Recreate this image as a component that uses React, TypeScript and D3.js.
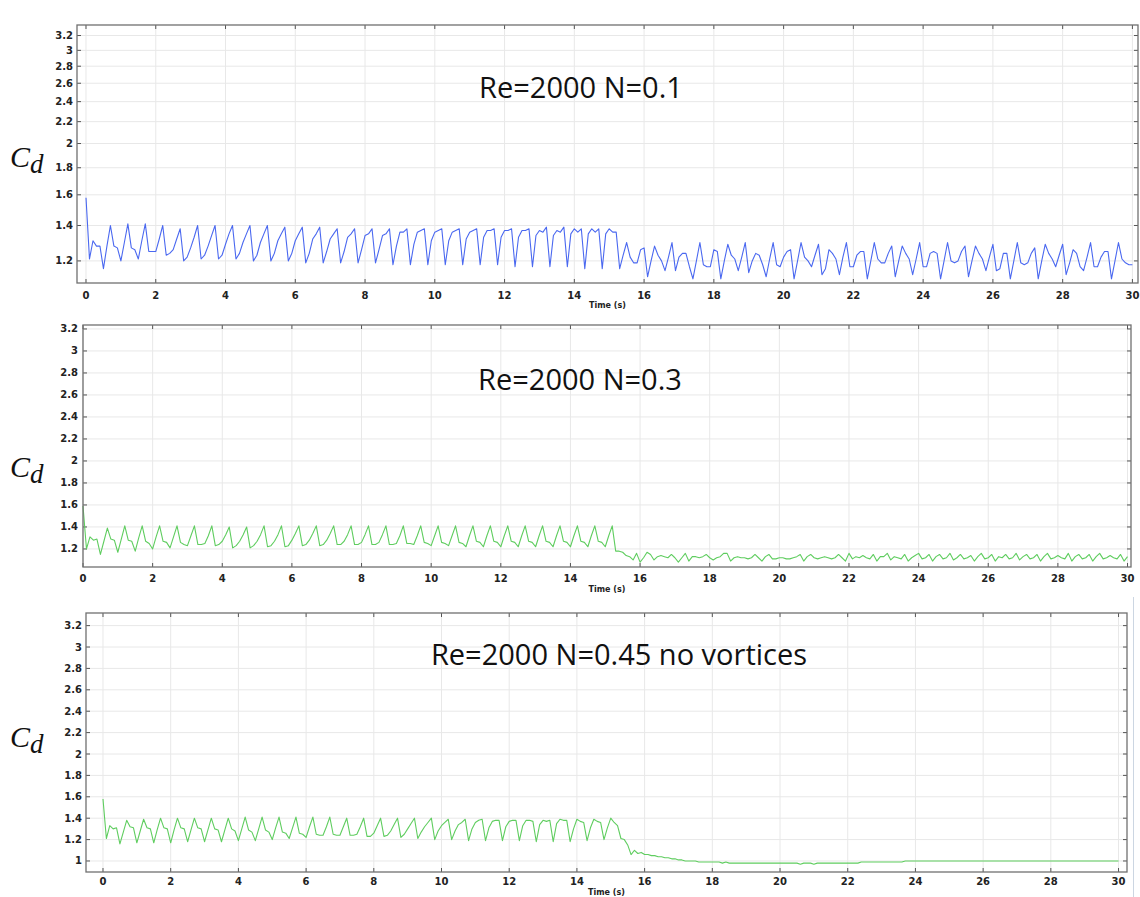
import React, { useEffect, useRef } from 'react';
import * as d3 from 'd3';

// sample step of the exported drag coefficient series (s)
const dt = 0.1;

// Re=2000 N=0.1 (blue)
const cdN01 = [
  1.58, 1.21, 1.31, 1.28, 1.28, 1.16, 1.28, 1.40, 1.28, 1.27,
  1.20, 1.30, 1.41, 1.27, 1.26, 1.21, 1.31, 1.41, 1.25, 1.25,
  1.25, 1.32, 1.40, 1.23, 1.24, 1.26, 1.32, 1.38, 1.20, 1.22,
  1.27, 1.33, 1.40, 1.21, 1.23, 1.28, 1.34, 1.40, 1.21, 1.23,
  1.29, 1.35, 1.40, 1.21, 1.24, 1.30, 1.35, 1.40, 1.20, 1.23,
  1.30, 1.35, 1.40, 1.20, 1.24, 1.31, 1.35, 1.39, 1.20, 1.24,
  1.31, 1.35, 1.39, 1.19, 1.24, 1.32, 1.35, 1.39, 1.19, 1.25,
  1.32, 1.35, 1.38, 1.19, 1.25, 1.33, 1.35, 1.38, 1.19, 1.26,
  1.34, 1.35, 1.38, 1.19, 1.26, 1.34, 1.35, 1.38, 1.18, 1.28,
  1.36, 1.36, 1.38, 1.18, 1.29, 1.36, 1.37, 1.38, 1.18, 1.31,
  1.36, 1.37, 1.38, 1.18, 1.31, 1.36, 1.37, 1.38, 1.18, 1.32,
  1.36, 1.37, 1.38, 1.18, 1.33, 1.37, 1.37, 1.38, 1.18, 1.33,
  1.37, 1.37, 1.38, 1.17, 1.33, 1.37, 1.37, 1.38, 1.17, 1.34,
  1.37, 1.36, 1.39, 1.17, 1.34, 1.37, 1.36, 1.39, 1.17, 1.35,
  1.38, 1.36, 1.38, 1.16, 1.35, 1.38, 1.36, 1.38, 1.16, 1.35,
  1.38, 1.36, 1.36, 1.16, 1.23, 1.30, 1.22, 1.19, 1.19, 1.26,
  1.27, 1.12, 1.20, 1.28, 1.23, 1.20, 1.15, 1.22, 1.30, 1.15,
  1.22, 1.24, 1.24, 1.17, 1.11, 1.20, 1.30, 1.18, 1.17, 1.17,
  1.26, 1.25, 1.11, 1.20, 1.29, 1.23, 1.21, 1.15, 1.22, 1.30,
  1.14, 1.20, 1.24, 1.23, 1.18, 1.12, 1.21, 1.30, 1.18, 1.17,
  1.22, 1.25, 1.26, 1.11, 1.20, 1.30, 1.22, 1.20, 1.17, 1.23,
  1.29, 1.13, 1.16, 1.26, 1.24, 1.21, 1.13, 1.22, 1.30, 1.17,
  1.17, 1.23, 1.25, 1.25, 1.11, 1.20, 1.30, 1.21, 1.19, 1.19,
  1.24, 1.28, 1.12, 1.20, 1.28, 1.24, 1.21, 1.13, 1.21, 1.30,
  1.17, 1.17, 1.24, 1.25, 1.24, 1.11, 1.20, 1.30, 1.20, 1.19,
  1.20, 1.25, 1.28, 1.12, 1.20, 1.28, 1.24, 1.21, 1.15, 1.22,
  1.29, 1.15, 1.16, 1.24, 1.24, 1.11, 1.20, 1.30, 1.19, 1.18,
  1.19, 1.24, 1.27, 1.11, 1.20, 1.29, 1.24, 1.21, 1.17, 1.23,
  1.29, 1.13, 1.19, 1.26, 1.24, 1.17, 1.15, 1.22, 1.30, 1.17,
  1.17, 1.22, 1.25, 1.25, 1.11, 1.20, 1.30, 1.21, 1.19, 1.18,
  1.18,
];

// Re=2000 N=0.3 (green)
const cdN03 = [
  1.59, 1.20, 1.31, 1.28, 1.29, 1.15, 1.27, 1.39, 1.29, 1.28,
  1.17, 1.29, 1.41, 1.28, 1.27, 1.18, 1.30, 1.41, 1.27, 1.25,
  1.20, 1.31, 1.41, 1.27, 1.26, 1.21, 1.31, 1.41, 1.26, 1.24,
  1.23, 1.32, 1.41, 1.24, 1.24, 1.25, 1.32, 1.41, 1.23, 1.24,
  1.27, 1.33, 1.40, 1.21, 1.23, 1.27, 1.33, 1.40, 1.21, 1.23,
  1.27, 1.33, 1.41, 1.22, 1.23, 1.27, 1.33, 1.41, 1.22, 1.23,
  1.28, 1.34, 1.41, 1.23, 1.24, 1.28, 1.34, 1.41, 1.23, 1.24,
  1.28, 1.34, 1.41, 1.24, 1.24, 1.27, 1.33, 1.41, 1.24, 1.24,
  1.26, 1.33, 1.41, 1.24, 1.24, 1.26, 1.33, 1.41, 1.24, 1.24,
  1.25, 1.32, 1.41, 1.25, 1.25, 1.24, 1.32, 1.41, 1.26, 1.25,
  1.23, 1.32, 1.41, 1.26, 1.25, 1.23, 1.32, 1.41, 1.26, 1.25,
  1.22, 1.32, 1.41, 1.27, 1.26, 1.22, 1.32, 1.41, 1.27, 1.26,
  1.22, 1.32, 1.41, 1.27, 1.26, 1.22, 1.32, 1.41, 1.27, 1.26,
  1.22, 1.32, 1.41, 1.27, 1.26, 1.22, 1.32, 1.41, 1.27, 1.26,
  1.22, 1.32, 1.41, 1.27, 1.26, 1.22, 1.32, 1.41, 1.27, 1.26,
  1.22, 1.32, 1.41, 1.18, 1.18, 1.17, 1.14, 1.13, 1.10, 1.16,
  1.08, 1.12, 1.17, 1.15, 1.10, 1.13, 1.14, 1.13, 1.12, 1.15,
  1.12, 1.08, 1.12, 1.16, 1.09, 1.13, 1.13, 1.12, 1.13, 1.15,
  1.12, 1.10, 1.12, 1.13, 1.16, 1.16, 1.09, 1.12, 1.13, 1.12,
  1.12, 1.11, 1.12, 1.15, 1.12, 1.09, 1.13, 1.15, 1.11, 1.11,
  1.12, 1.12, 1.11, 1.11, 1.12, 1.13, 1.15, 1.09, 1.13, 1.15,
  1.12, 1.11, 1.12, 1.13, 1.12, 1.11, 1.12, 1.15, 1.12, 1.09,
  1.16, 1.11, 1.13, 1.12, 1.14, 1.12, 1.11, 1.15, 1.09, 1.13,
  1.13, 1.16, 1.10, 1.13, 1.12, 1.11, 1.15, 1.09, 1.12, 1.14,
  1.16, 1.11, 1.12, 1.15, 1.09, 1.13, 1.15, 1.11, 1.12, 1.16,
  1.10, 1.12, 1.15, 1.11, 1.12, 1.14, 1.09, 1.13, 1.16, 1.11,
  1.12, 1.15, 1.09, 1.13, 1.12, 1.15, 1.11, 1.12, 1.16, 1.10,
  1.13, 1.15, 1.11, 1.12, 1.15, 1.09, 1.13, 1.16, 1.11, 1.12,
  1.14, 1.12, 1.11, 1.16, 1.09, 1.13, 1.15, 1.11, 1.12, 1.15,
  1.09, 1.13, 1.16, 1.11, 1.12, 1.14, 1.12, 1.11, 1.15, 1.09,
  1.13,
];

// Re=2000 N=0.45 no vortices (green)
const cdN045 = [
  1.58, 1.21, 1.33, 1.30, 1.31, 1.16, 1.27, 1.38, 1.32, 1.31,
  1.17, 1.28, 1.39, 1.31, 1.30, 1.17, 1.29, 1.40, 1.31, 1.30,
  1.17, 1.29, 1.40, 1.31, 1.30, 1.18, 1.29, 1.40, 1.31, 1.30,
  1.18, 1.29, 1.40, 1.30, 1.29, 1.18, 1.29, 1.40, 1.30, 1.28,
  1.19, 1.30, 1.41, 1.29, 1.27, 1.19, 1.30, 1.41, 1.29, 1.27,
  1.20, 1.31, 1.41, 1.27, 1.26, 1.21, 1.31, 1.41, 1.26, 1.25,
  1.22, 1.32, 1.41, 1.25, 1.24, 1.24, 1.32, 1.41, 1.25, 1.24,
  1.24, 1.32, 1.40, 1.24, 1.24, 1.25, 1.32, 1.40, 1.23, 1.23,
  1.26, 1.33, 1.40, 1.23, 1.24, 1.28, 1.34, 1.40, 1.22, 1.25,
  1.30, 1.35, 1.40, 1.21, 1.27, 1.32, 1.36, 1.40, 1.20, 1.28,
  1.33, 1.36, 1.39, 1.20, 1.28, 1.34, 1.36, 1.39, 1.19, 1.30,
  1.36, 1.38, 1.39, 1.19, 1.31, 1.37, 1.38, 1.38, 1.19, 1.32,
  1.37, 1.38, 1.38, 1.19, 1.33, 1.38, 1.38, 1.37, 1.18, 1.34,
  1.38, 1.37, 1.38, 1.18, 1.35, 1.39, 1.38, 1.38, 1.18, 1.30,
  1.39, 1.37, 1.36, 1.19, 1.31, 1.39, 1.37, 1.36, 1.20, 1.31,
  1.40, 1.36, 1.33, 1.21, 1.20, 1.15, 1.06, 1.10, 1.07, 1.08,
  1.06, 1.06, 1.05, 1.05, 1.04, 1.04, 1.03, 1.03, 1.02, 1.02,
  1.01, 1.01, 1.00, 1.00, 1.00, 1.00, 0.99, 0.99, 0.99, 0.99,
  0.99, 0.99, 0.99, 0.98, 0.99, 0.98, 0.98, 0.98, 0.98, 0.98,
  0.98, 0.98, 0.98, 0.98, 0.98, 0.98, 0.98, 0.98, 0.98, 0.98,
  0.98, 0.98, 0.98, 0.98, 0.98, 0.98, 0.97, 0.98, 0.98, 0.98,
  0.97, 0.98, 0.98, 0.98, 0.98, 0.98, 0.98, 0.98, 0.98, 0.98,
  0.98, 0.98, 0.98, 0.98, 0.99, 0.99, 0.99, 0.99, 0.99, 0.99,
  0.99, 0.99, 0.99, 0.99, 0.99, 0.99, 0.99, 1.00, 1.00, 1.00,
  1.00, 1.00, 1.00, 1.00, 1.00, 1.00, 1.00, 1.00, 1.00, 1.00,
  1.00, 1.00, 1.00, 1.00, 1.00, 1.00, 1.00, 1.00, 1.00, 1.00,
  1.00, 1.00, 1.00, 1.00, 1.00, 1.00, 1.00, 1.00, 1.00, 1.00,
  1.00, 1.00, 1.00, 1.00, 1.00, 1.00, 1.00, 1.00, 1.00, 1.00,
  1.00, 1.00, 1.00, 1.00, 1.00, 1.00, 1.00, 1.00, 1.00, 1.00,
  1.00, 1.00, 1.00, 1.00, 1.00, 1.00, 1.00, 1.00, 1.00, 1.00,
  1.00,
];

const xTicks = [0, 2, 4, 6, 8, 10, 12, 14, 16, 18, 20, 22, 24, 26, 28, 30];
const yTicksHigh = [1.2, 1.4, 1.6, 1.8, 2, 2.2, 2.4, 2.6, 2.8, 3, 3.2];
const yTicksLow = [1, 1.2, 1.4, 1.6, 1.8, 2, 2.2, 2.4, 2.6, 2.8, 3, 3.2];
const titles = ['Re=2000 N=0.1', 'Re=2000 N=0.3', 'Re=2000 N=0.45 no vortices'];
const xTitle = 'Time (s)';

const BLUE = '#4a68f0';
const GREEN = '#5fcd5f';

export default function App() {
  const ref = useRef<SVGSVGElement>(null);

  useEffect(() => {
    const svg = d3.select(ref.current);
    svg.selectAll('*').remove();

    const panels = [
      {
        data: cdN01, color: BLUE, title: titles[0], yTicks: yTicksHigh,
        left: 77, right: 1138, top: 25, bottom: 283,
        xDomain: [-0.258, 30.16],
        y: d3.scaleLog().domain([1.09, 3.35]).range([283, 25]),
        titleX: 581, titleY: 98, cdY: 167, labelGap: 4, xLabelY: 299, xTitleY: 308,
      },
      {
        data: cdN03, color: GREEN, title: titles[1], yTicks: yTicksHigh,
        left: 83, right: 1131, top: 325, bottom: 567,
        xDomain: [0, 30.1],
        y: d3.scaleLinear().domain([1.036, 3.236]).range([567, 325]),
        titleX: 580, titleY: 390, cdY: 477, labelGap: 5, xLabelY: 582, xTitleY: 592,
      },
      {
        data: cdN045, color: GREEN, title: titles[2], yTicks: yTicksLow,
        left: 86, right: 1127, top: 613, bottom: 872,
        xDomain: [-0.502, 30.25],
        y: d3.scaleLinear().domain([0.897, 3.318]).range([872, 613]),
        titleX: 619, titleY: 665, cdY: 747, labelGap: 4, xLabelY: 885, xTitleY: 894.5,
      },
    ];

    panels.forEach((p) => {
      const g = svg.append('g');
      const x = d3.scaleLinear().domain(p.xDomain).range([p.left, p.right]);
      const y = p.y as any;

      // grid
      g.selectAll('.vg').data(xTicks).enter().append('line')
        .attr('x1', (d) => x(d)).attr('x2', (d) => x(d))
        .attr('y1', p.top).attr('y2', p.bottom)
        .attr('stroke', '#e8e8e8').attr('stroke-width', 1);
      g.selectAll('.hg').data(p.yTicks).enter().append('line')
        .attr('x1', p.left).attr('x2', p.right)
        .attr('y1', (d) => y(d)).attr('y2', (d) => y(d))
        .attr('stroke', '#e8e8e8').attr('stroke-width', 1);

      // ticks (inside the frame)
      g.selectAll('.xt').data(xTicks).enter().append('path')
        .attr('d', (d) => `M${x(d)},${p.bottom}v-4M${x(d)},${p.top}v4`)
        .attr('stroke', '#555').attr('stroke-width', 1);
      g.selectAll('.yt').data(p.yTicks).enter().append('path')
        .attr('d', (d) => `M${p.left},${y(d)}h4M${p.right},${y(d)}h-4`)
        .attr('stroke', '#555').attr('stroke-width', 1);

      // series
      const line = d3.line<number>()
        .x((d, i) => x(i * dt))
        .y((d) => y(d));
      g.append('path')
        .attr('d', line(p.data))
        .attr('fill', 'none')
        .attr('stroke', p.color)
        .attr('stroke-width', 1.1)
        .attr('stroke-linejoin', 'round');

      // frame
      g.append('rect')
        .attr('x', p.left).attr('y', p.top)
        .attr('width', p.right - p.left).attr('height', p.bottom - p.top)
        .attr('fill', 'none').attr('stroke', '#707070').attr('stroke-width', 1.3);

      // tick labels
      g.selectAll('.xl').data(xTicks).enter().append('text')
        .attr('x', (d) => x(d)).attr('y', p.xLabelY)
        .attr('text-anchor', 'middle')
        .style('font-family', 'DejaVu Sans').style('font-weight', 'bold')
        .style('font-size', '10px').attr('fill', '#222')
        .text((d) => String(d));
      g.selectAll('.yl').data(p.yTicks).enter().append('text')
        .attr('x', p.left - p.labelGap).attr('y', (d) => y(d))
        .attr('dy', '0.35em')
        .attr('text-anchor', 'end')
        .style('font-family', 'DejaVu Sans').style('font-weight', 'bold')
        .style('font-size', '10px').attr('fill', '#222')
        .text((d) => String(d));

      g.append('text')
        .attr('x', (p.left + p.right) / 2).attr('y', p.xTitleY)
        .attr('text-anchor', 'middle')
        .style('font-family', 'DejaVu Sans').style('font-weight', 'bold')
        .style('font-size', '8px').attr('fill', '#222')
        .text(xTitle);

      // title
      g.append('text')
        .attr('x', p.titleX).attr('y', p.titleY)
        .attr('text-anchor', 'middle')
        .style('font-family', 'Open Sans').style('font-size', '29px')
        .attr('fill', '#111')
        .text(p.title);

      // C_d axis label
      const cd = g.append('text')
        .attr('x', 10).attr('y', p.cdY)
        .style('font-family', 'Liberation Serif').style('font-style', 'italic')
        .attr('fill', '#111');
      cd.append('tspan').style('font-size', '30px').text('C');
      cd.append('tspan').attr('dy', 6).style('font-size', '27px').text('d');
    });

    // thin screenshot border on the right of the last panel
    svg.append('line')
      .attr('x1', 1133.5).attr('x2', 1133.5).attr('y1', 597).attr('y2', 897)
      .attr('stroke', '#ccd6e2').attr('stroke-width', 1);
  }, []);

  return (
    <svg
      ref={ref}
      width={1140}
      height={897}
      style={{ position: 'absolute', left: 0, top: 0, background: '#fff' }}
    />
  );
}
